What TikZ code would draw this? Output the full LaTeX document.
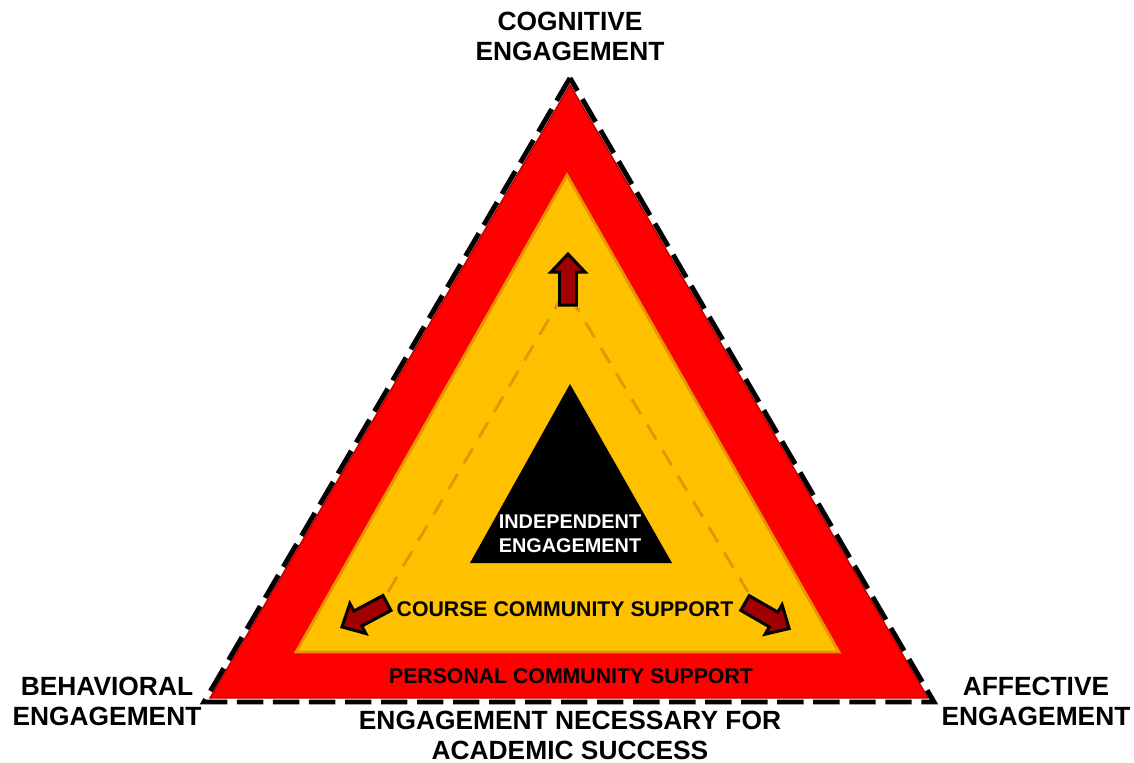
\documentclass[tikz,border=0pt]{standalone}
\usepackage{fontspec}
\setmainfont{Liberation Sans}
\definecolor{signred}{HTML}{FF0000}
\definecolor{darkred}{HTML}{C00000}
\definecolor{amber}{HTML}{FFC000}
\definecolor{amberline}{HTML}{E69500}
\definecolor{arrowred}{HTML}{A00000}
\begin{document}
\begin{tikzpicture}[x=0.02cm,y=-0.02cm,
    lbl/.style={font=\fontsize{15}{17}\selectfont\bfseries,align=center,inner sep=0pt},
    band/.style={font=\fontsize{12.1}{14}\selectfont\bfseries,align=center,inner sep=0pt},
    whitelbl/.style={font=\fontsize{11.3}{13.6}\selectfont\bfseries,align=center,inner sep=0pt,text=white},
    blockarrow/.style={fill=arrowred,draw=black,line width=1.7pt,line join=miter}]
  \useasboundingbox (0,0) rectangle (1134,762);
  % corners of the three triangles
  \coordinate (top) at (570,85);
  \coordinate (left) at (210,698);
  \coordinate (right) at (928,698);
  \coordinate (ytop) at (567,175);
  \coordinate (yleft) at (296,652);
  \coordinate (yright) at (839,652);
  \coordinate (btop) at (570,384);
  \coordinate (bleft) at (470,563);
  \coordinate (bright) at (672,563);
  % outer band
  \filldraw[fill=signred,draw=darkred,line width=0.8pt] (top) -- (left) -- (right) -- cycle;
  \draw[line width=2.8pt,dash pattern=on 15pt off 5.5pt,line join=miter]
    (570,78) -- (204,702) -- (934,702) -- cycle;
  % inner band
  \filldraw[fill=amber,draw=amberline,line width=1.6pt,line join=miter] (ytop) -- (yleft) -- (yright) -- cycle;
  \fill (btop) -- (bleft) -- (bright) -- cycle;
  % paths out of the centre
  \coordinate (dtop) at (566,290);
  \coordinate (dleft) at (388,592);
  \coordinate (dright) at (748,592);
  \draw[amberline,line width=1.6pt,dash pattern=on 10pt off 7pt] (dleft) -- (dtop) -- (dright);
  \foreach \x/\y/\a in {568/305/90, 387/603/208, 745/603/-30}
    \draw[blockarrow,shift={(\x,\y)},rotate=\a]
      (0,-8.5) -- (33,-8.5) -- (33,-17) -- (51,0) -- (33,17) -- (33,8.5) -- (0,8.5) -- cycle;
  % labels
  \node[lbl] at (570,36) (cognitive) {COGNITIVE\\ENGAGEMENT};
  \node[lbl] at (107,701) (behavioral) {BEHAVIORAL\\ENGAGEMENT};
  \node[lbl] at (1036,701) (affective) {AFFECTIVE\\ENGAGEMENT};
  \node[lbl] at (570,735) (success) {ENGAGEMENT NECESSARY FOR\\ACADEMIC SUCCESS};
  \node[band] at (571,676) (personal) {PERSONAL COMMUNITY SUPPORT};
  \node[band] at (565,609) (course) {COURSE COMMUNITY SUPPORT};
  \node[whitelbl] at (570,534) (independent) {INDEPENDENT\\ENGAGEMENT};
\end{tikzpicture}
\end{document}
